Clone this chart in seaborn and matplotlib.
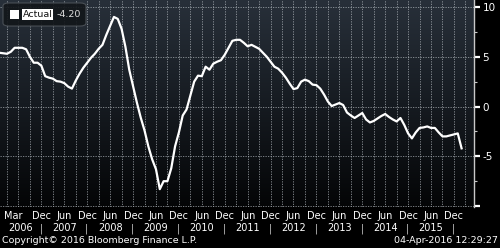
import numpy as np
import pandas as pd
import matplotlib
matplotlib.use("Agg")
import matplotlib.pyplot as plt
import matplotlib.transforms as mtransforms
from matplotlib.colors import LinearSegmentedColormap
from matplotlib.patches import FancyBboxPatch, Rectangle
import seaborn as sns

# ---- data (monthly, Jan 2006 .. Feb 2016) ----
start_month = "2006-01"
values = [
    5.4, 5.35, 5.3, 5.5, 5.9, 5.9, 5.9, 5.75, 5.0, 4.4, 4.4, 4.1,          # 2006
    3.05, 2.9, 2.8, 2.55, 2.5, 2.35, 2.0, 1.8, 2.6, 3.3, 3.9, 4.4,        # 2007
    4.9, 5.3, 5.8, 6.2, 7.2, 8.1, 9.0, 8.8, 7.8, 6.0, 3.7, 2.05,          # 2008
    0.4, -1.1, -2.4, -4.0, -5.3, -6.3, -8.3, -7.5, -7.5, -6.2, -4.0, -2.6,  # 2009
    -0.9, -0.3, 1.1, 2.5, 3.1, 3.05, 4.0, 3.7, 4.3, 4.5, 4.65, 5.2,       # 2010
    5.9, 6.6, 6.7, 6.7, 6.4, 6.05, 6.2, 6.0, 5.8, 5.4, 5.0, 4.5,          # 2011
    4.0, 3.8, 3.4, 2.9, 2.3, 1.75, 1.85, 2.5, 2.7, 2.55, 2.2, 2.15,       # 2012
    1.8, 1.2, 0.5, 0.05, 0.2, 0.35, 0.15, -0.6, -0.9, -1.15, -0.9, -0.65, # 2013
    -1.3, -1.6, -1.45, -1.2, -0.95, -0.75, -1.05, -1.3, -1.5, -1.15, -1.85, -2.7,  # 2014
    -3.2, -2.6, -2.15, -2.1, -2.0, -2.15, -2.15, -2.6, -3.0, -3.0, -2.9, -2.8,     # 2015
    -2.7, -4.2,                                                            # 2016
]
month_ticks = ["Mar", "Dec", "Jun", "Dec", "Jun", "Dec", "Jun", "Dec", "Jun", "Dec",
               "Jun", "Dec", "Jun", "Dec", "Jun", "Dec", "Jun", "Dec", "Jun", "Dec"]
month_tick_idx = [2, 11] + [v for k in range(1, 10) for v in (12 * k + 5, 12 * k + 11)]
year_labels = ["2006", "2007", "2008", "2009", "2010", "2011", "2012", "2013", "2014", "2015"]
y_ticks = [10, 5, 0, -5, -10]
y_ticklabels = ["10", "5", "0", "-5", ""]
legend_name = "Actual"
copyright_txt = "Copyright\u00a9 2016 Bloomberg Finance L.P."
stamp_txt = "04-Apr-2016 12:29:27"

dates = pd.period_range(start_month, periods=len(values), freq="M")
df = pd.DataFrame({"idx": np.arange(len(values)), "value": values})

# ---- figure ----
fig = plt.figure(figsize=(5.0, 2.48), dpi=100, facecolor="black")
ax = fig.add_axes([0.0, 0.165, 0.948, 0.835])
ax.set_facecolor("black")

xmin, xmax = 0.17, 124.25
ymin, ymax = -10.1, 10.7
ax.set_xlim(xmin, xmax)
ax.set_ylim(ymin, ymax)

# gradient background
cmap = LinearSegmentedColormap.from_list("bg", ["#040506", "#161b21", "#28303a"])
grad = np.linspace(0, 1, 256).reshape(-1, 1)
ax.imshow(grad, extent=[xmin, xmax, ymin, ymax], origin="lower", aspect="auto",
          cmap=cmap, zorder=0)

# grid
for q in range(2, 125, 3):
    ax.axvline(q, color="#b8bec4", lw=0.6, ls=(0, (1.5, 1.5)), alpha=0.75, zorder=1)
for yv in [10, 5, 0, -5, -10]:
    ax.axhline(yv, color="#b8bec4", lw=0.6, ls=(0, (1.5, 1.5)), alpha=0.75, zorder=1)

sns.lineplot(data=df, x="idx", y="value", ax=ax, color="white", lw=1.6, zorder=3,
             legend=False)

# axes styling
for s in ["top", "left", "bottom"]:
    ax.spines[s].set_visible(False)
ax.spines["right"].set_color("#c8c8c8")
ax.spines["right"].set_linewidth(1.0)
ax.yaxis.tick_right()
ax.set_yticks(y_ticks)
ax.set_yticklabels(y_ticklabels)
ax.set_yticks([7.5, 2.5, -2.5, -7.5], minor=True)
ax.tick_params(axis="y", which="major", colors="white", length=4, width=1.6,
               pad=2, labelsize=7.5, direction="out")
ax.tick_params(axis="y", which="minor", colors="#c8c8c8", length=2.5, width=0.8)
for lbl in ax.get_yticklabels():
    lbl.set_horizontalalignment("left")

ax.set_xticks(month_tick_idx)
ax.set_xticklabels(month_ticks)
ax.tick_params(axis="x", length=0, pad=3, colors="white", labelsize=7)
first = ax.get_xticklabels()[0]
first.set_transform(first.get_transform() +
                    mtransforms.ScaledTranslation(6 / 100, 0, fig.dpi_scale_trans))
ax.set_xlabel("")
ax.set_ylabel("")

# year row
tr = mtransforms.blended_transform_factory(ax.transData, fig.transFigure)
for k, yl in enumerate(year_labels):
    xc = 5.6 if k == 0 else 12 * k + 5
    ax.text(xc, 0.079, yl, transform=tr, color="white", fontsize=7,
            ha="center", va="center")
    ax.text(12 * k + 10.9, 0.079, "|", transform=tr, color="#cccccc", fontsize=7,
            ha="center", va="center")

fig.text(0.004, 0.032, copyright_txt, color="white", fontsize=6.8, ha="left", va="center")
fig.text(0.996, 0.032, stamp_txt, color="white", fontsize=6.8, ha="right", va="center")

# legend box
lg = FancyBboxPatch((0.006, 0.895), 0.166, 0.093,
                    boxstyle="round,pad=0.0,rounding_size=0.012",
                    transform=fig.transFigure, facecolor="#12161a", edgecolor="#4e545a",
                    lw=0.8, alpha=0.9, zorder=5)
fig.patches.append(lg)
fig.patches.append(Rectangle((0.020, 0.923), 0.017, 0.038, transform=fig.transFigure,
                             facecolor="white", edgecolor="none", zorder=6))
fig.text(0.045, 0.941, legend_name, color="#111111", fontsize=6.8, ha="left", va="center",
         bbox=dict(facecolor="white", edgecolor="none", pad=0.6), zorder=7)
fig.text(0.113, 0.941, f"{values[-1]:.2f}", color="#dddddd", fontsize=6.8, ha="left",
         va="center", zorder=7)

fig.savefig("out.png", dpi=100, facecolor="black")
